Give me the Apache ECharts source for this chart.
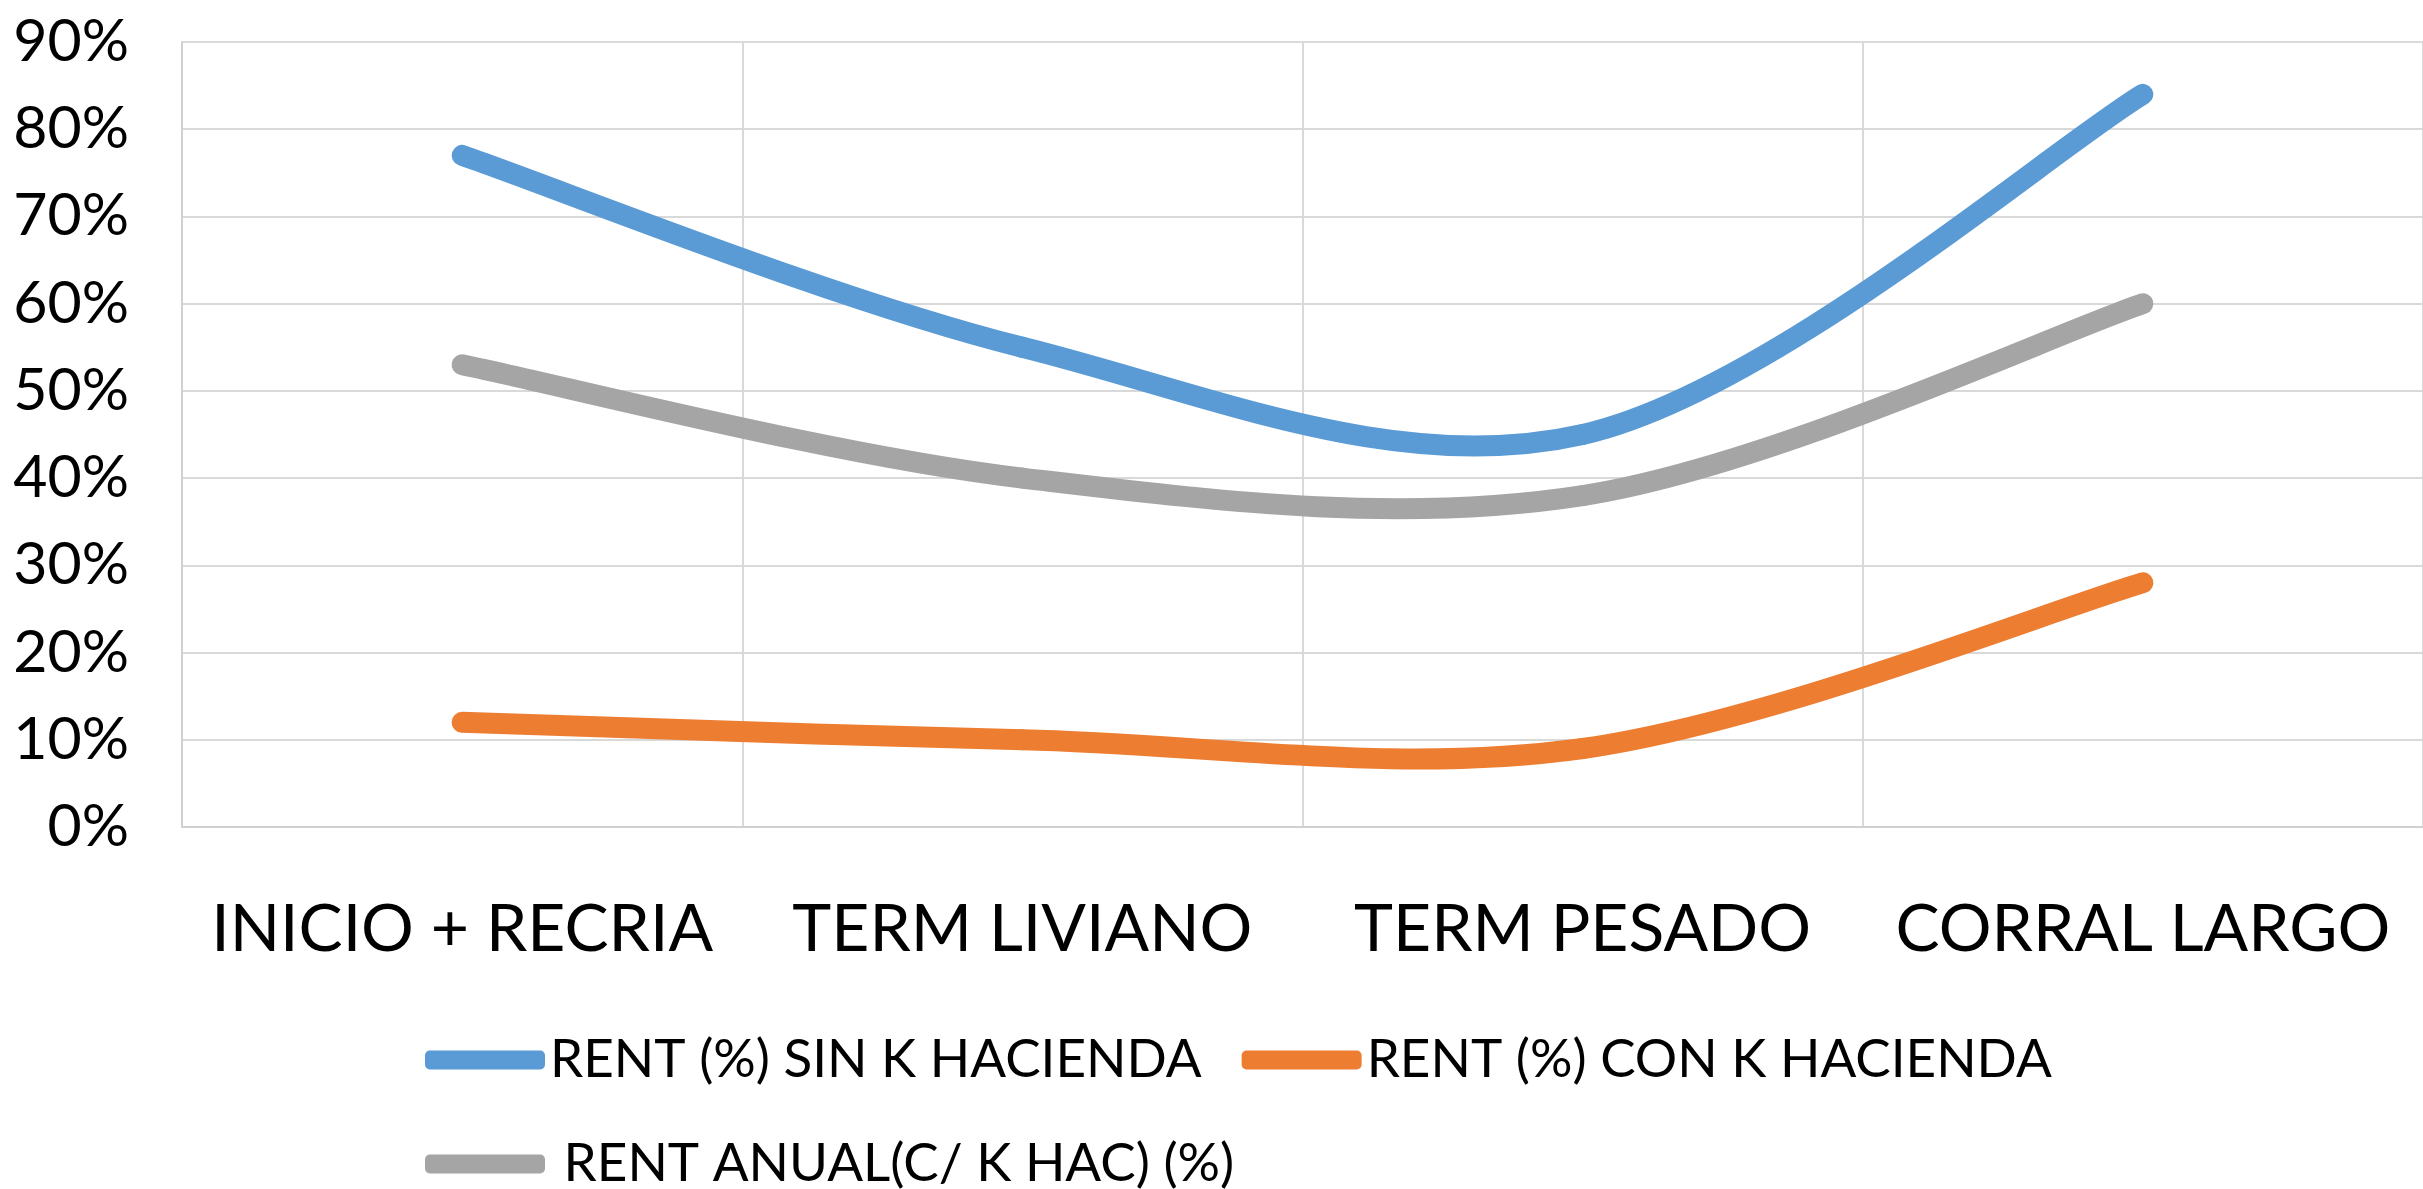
<!DOCTYPE html>
<html>
<head>
<meta charset="utf-8">
<title>Rentabilidad por sistema</title>
<script src="https://cdn.jsdelivr.net/npm/echarts@6/dist/echarts.min.js"></script>
<style>
    html, body { margin: 0; padding: 0; background: #fff; }
    #chart { width: 2423px; height: 1189px; }
</style>
</head>
<body>
<div id="chart"></div>
<script>
// --- Data ---
const categories = ['INICIO + RECRIA', 'TERM LIVIANO', 'TERM PESADO', 'CORRAL LARGO'];
const rentSinK = [77, 55, 45, 84];
const rentConK = [12, 10, 9, 28];
const rentAnual = [53, 40, 38, 60];
const yTicks = { min: 0, max: 90, step: 10 };

const seriesNames = ['RENT (%) SIN K HACIENDA', 'RENT (%) CON K HACIENDA', ' RENT ANUAL(C/ K HAC) (%)'];
const colors = ['#5B9BD5', '#ED7D31', '#A5A5A5'];

const font = 'Lato, "Open Sans", sans-serif';
const LINE_W = 21;

const chart = echarts.init(document.getElementById('chart'));

// Spreadsheet-style smoothed line: one cubic bezier per segment,
// control points at 1/6 of the neighbour difference (Catmull-Rom).
function smoothLineSeries(name, values, color) {
    return {
        name: name,
        type: 'custom',
        data: values.map((v, i) => [i, v]),
        encode: { x: 0, y: 1 },
        itemStyle: { color: color },
        renderItem: function (params, api) {
            const i = params.dataIndex;
            if (i >= values.length - 1) return null;
            const pt = k => api.coord([k, values[k]]);
            const p0 = i > 0 ? pt(i - 1) : pt(i);
            const p1 = pt(i);
            const p2 = pt(i + 1);
            const p3 = i + 2 < values.length ? pt(i + 2) : pt(i + 1);
            return {
                type: 'bezierCurve',
                shape: {
                    x1: p1[0], y1: p1[1],
                    cpx1: p1[0] + (p2[0] - p0[0]) / 6, cpy1: p1[1] + (p2[1] - p0[1]) / 6,
                    cpx2: p2[0] - (p3[0] - p1[0]) / 6, cpy2: p2[1] - (p3[1] - p1[1]) / 6,
                    x2: p2[0], y2: p2[1]
                },
                style: { stroke: color, lineWidth: LINE_W, fill: null, lineCap: 'round' }
            };
        }
    };
}

const legendBase = {
    orient: 'horizontal',
    left: 420,
    itemWidth: 120,
    itemHeight: 19,
    itemGap: 40,
    textStyle: { fontFamily: font, fontSize: 53, color: '#000', lineHeight: 62 }
};

const legendItem = name => ({ name: name, icon: 'roundRect' });

const option = {
    animation: false,
    backgroundColor: '#fff',
    color: colors,
    grid: { left: 182, right: 0, top: 42, bottom: 362, containLabel: false },
    legend: [
        Object.assign({}, legendBase, { top: 1024, data: [legendItem(seriesNames[0]), legendItem(seriesNames[1])] }),
        Object.assign({}, legendBase, { top: 1128, data: [legendItem(seriesNames[2])] })
    ],
    xAxis: {
        type: 'category',
        data: categories,
        boundaryGap: true,
        axisLine: { show: true, lineStyle: { color: '#d0d0d0', width: 2 } },
        axisTick: { show: false },
        axisLabel: { margin: 70, fontFamily: font, fontSize: 66, color: '#000', interval: 0 },
        splitLine: { show: true, interval: 0, lineStyle: { color: '#d9d9d9', width: 2 } }
    },
    yAxis: {
        type: 'value',
        min: yTicks.min,
        max: yTicks.max,
        interval: yTicks.step,
        axisLine: { show: true, lineStyle: { color: '#d0d0d0', width: 2 } },
        axisTick: { show: false },
        axisLabel: { formatter: '{value}%', margin: 53, fontFamily: font, fontSize: 59, color: '#000' },
        splitLine: { show: true, lineStyle: { color: '#d9d9d9', width: 2 } }
    },
    series: [
        smoothLineSeries(seriesNames[0], rentSinK, colors[0]),
        smoothLineSeries(seriesNames[1], rentConK, colors[1]),
        smoothLineSeries(seriesNames[2], rentAnual, colors[2])
    ]
};

chart.setOption(option);
</script>
</body>
</html>
